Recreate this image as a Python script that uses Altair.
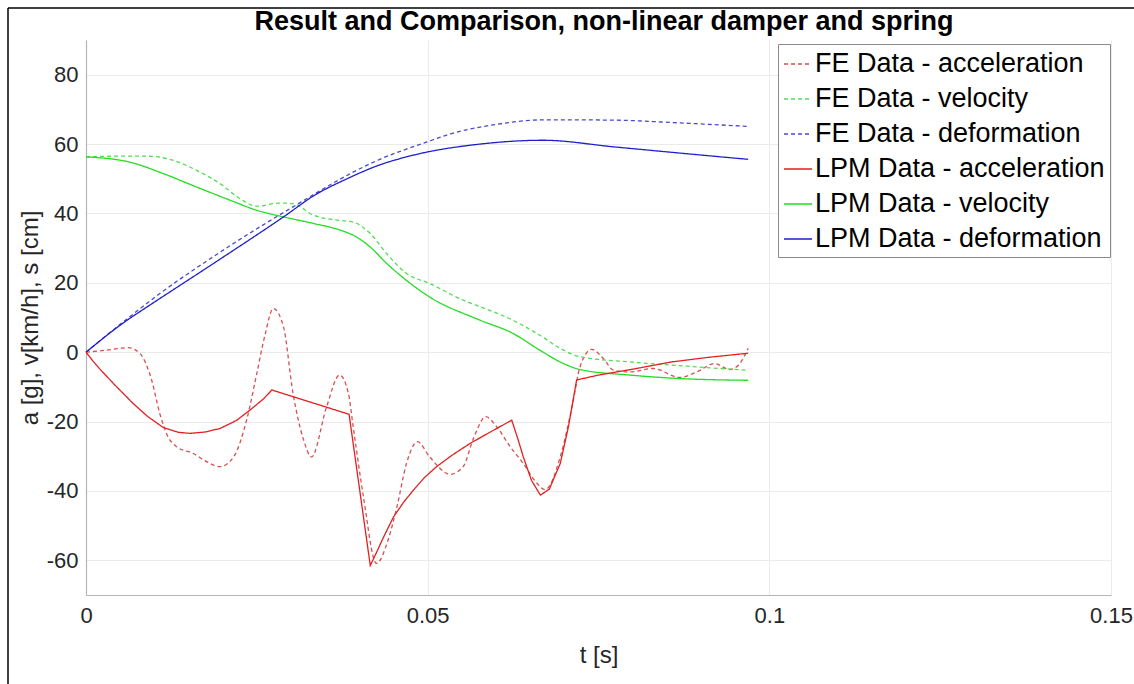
import altair as alt
import pandas as pd

# ---------------- data ----------------
title_text = "Result and Comparison, non-linear damper and spring"

fe_acc_t = [0, 0.003, 0.0062, 0.0079, 0.0096, 0.0108, 0.012, 0.0133, 0.0157, 0.0177, 0.0196,
            0.0216, 0.0235, 0.025, 0.0262, 0.0274, 0.0289, 0.0303, 0.0318, 0.033, 0.0352,
            0.0371, 0.0384, 0.0391, 0.0406, 0.0425, 0.0442, 0.0455, 0.0469, 0.0485, 0.0503,
            0.0533, 0.0552, 0.0567, 0.0585, 0.0601, 0.0621, 0.064, 0.066, 0.0672, 0.0694,
            0.0712, 0.0723, 0.074, 0.0757, 0.0772, 0.0796, 0.083, 0.0869, 0.0894, 0.092,
            0.0942, 0.0955, 0.0969]
fe_acc_v = [0, 0.6, 1.3, -0.4, -8, -17.7, -24.4, -27.3, -29.2, -31.6, -33,
            -30.2, -19.6, -6.1, 5, 12.6, 7.3, -11.9, -25, -30.2, -15.8,
            -6.6, -11.9, -21.5, -41.7, -60.9, -54.2, -44.6, -32.1, -25.8, -30.2,
            -35.2, -33, -24.9, -18.6, -21.5, -27.3, -32.1, -37.8, -39.6, -30.2,
            -15, -4.2, 0.8, -1.8, -5.2, -5.7, -4.7, -7.3, -5.7, -3.3,
            -5, -3.7, 1.1]

fe_vel_t = [0, 0.0045, 0.0089, 0.0128, 0.0162, 0.0196, 0.0225, 0.025, 0.0284, 0.0303,
            0.0333, 0.0362, 0.0391, 0.0416, 0.044, 0.0469, 0.0503, 0.0552, 0.0577, 0.0625,
            0.0664, 0.0694, 0.0723, 0.0796, 0.0869, 0.0969]
fe_vel_v = [56.3, 56.5, 56.5, 55.3, 52.4, 48.6, 44.3, 42.1, 43, 42.8,
            39.5, 38.2, 37.5, 34.2, 28.4, 22.7, 19.8, 15, 13.1, 9.2,
            4.9, 1.1, -1.3, -2.8, -3.9, -5.2]

fe_def_t = [0, 0.006, 0.0108, 0.0186, 0.0303, 0.0406, 0.043, 0.0499, 0.0528, 0.0601,
            0.0674, 0.0772, 0.0869, 0.0967]
fe_def_v = [0, 9.6, 16.9, 27.5, 41.9, 53.4, 55.6, 60.6, 62.6, 65.7,
            67, 66.9, 66.1, 65.1]

lpm_acc_t = [0, 0.001, 0.002, 0.004, 0.0055, 0.0069, 0.009, 0.0113, 0.0135, 0.0152,
             0.0175, 0.0196, 0.022, 0.024, 0.026, 0.0272, 0.0385, 0.0416, 0.0425, 0.0435,
             0.045, 0.0465, 0.0479, 0.0495, 0.0513, 0.0535, 0.0562, 0.059, 0.0623, 0.0632,
             0.064, 0.0652, 0.0665, 0.0678, 0.0694, 0.0706, 0.0718, 0.075, 0.08, 0.0857,
             0.091, 0.0969]
lpm_acc_v = [0, -2.5, -4.8, -9, -12, -14.8, -18.5, -21.7, -23.1, -23.4,
             -23, -22, -19.7, -16.7, -13.4, -10.9, -17.9, -61.5, -57.8, -53.5,
             -47.5, -43.2, -39.8, -36.2, -33, -29.8, -26.3, -23.2, -19.6, -25,
             -30.2, -37, -41.2, -39.5, -32.1, -21.5, -8, -6.6, -4.9, -2.8,
             -1.5, -0.3]

lpm_vel_t = [0, 0.0064, 0.0113, 0.0162, 0.0211, 0.025, 0.0289, 0.0333, 0.0372, 0.0396,
             0.0416, 0.044, 0.0469, 0.0503, 0.0577, 0.0625, 0.0664, 0.0699, 0.0723, 0.0796,
             0.0869, 0.0969]
lpm_vel_v = [56.3, 54.8, 51.5, 47.6, 43.8, 40.9, 39, 37.1, 35.2, 33.2,
             30.3, 25.6, 20.7, 15.9, 9.2, 5.4, 0.6, -3.3, -5, -6.6,
             -7.6, -8.1]

lpm_def_t = [0, 0.006, 0.0089, 0.0186, 0.0289, 0.0335, 0.0382, 0.043, 0.0479, 0.0577,
             0.0669, 0.0772, 0.0869, 0.0969]
lpm_def_v = [0, 9.2, 13, 25.5, 39, 45.3, 50, 54, 56.8, 60,
             61.1, 59.2, 57.4, 55.6]

series_names = ["FE Data - acceleration", "FE Data - velocity", "FE Data - deformation",
                "LPM Data - acceleration", "LPM Data - velocity", "LPM Data - deformation"]
series_colors = ["#d85050", "#55dd55", "#4a4acc", "#e41f1f", "#22dd22", "#1f1fcc"]

# ---------------- table ----------------
rows = []
for name, ts, vs in zip(series_names,
                        [fe_acc_t, fe_vel_t, fe_def_t, lpm_acc_t, lpm_vel_t, lpm_def_t],
                        [fe_acc_v, fe_vel_v, fe_def_v, lpm_acc_v, lpm_vel_v, lpm_def_v]):
    for i, (t, v) in enumerate(zip(ts, vs)):
        rows.append({"series": name, "t": t, "v": v, "order": i})
df = pd.DataFrame(rows)

FONT = "Liberation Sans"

x_enc = alt.X("t:Q", scale=alt.Scale(domain=[0, 0.15], nice=False),
              axis=alt.Axis(values=[0, 0.05, 0.1, 0.15], format=".2~f", title="t [s]",
                            labelFlush=False, ticks=False, labelPadding=10,
                            titleY=60, titleBaseline="middle"))
y_enc = alt.Y("v:Q", scale=alt.Scale(domain=[-70, 90], nice=False, zero=False),
              axis=alt.Axis(values=[-60, -40, -20, 0, 20, 40, 60, 80],
                            labelExpr="'' + datum.value",
                            title="a [g], v[km/h], s [cm]", ticks=False,
                            labelPadding=8, labelFlush=False, titleX=-56,
                            titleBaseline="middle"))
color_enc = alt.Color("series:N",
                      scale=alt.Scale(domain=series_names, range=series_colors),
                      legend=alt.Legend(title=None, orient="none", legendX=692, legendY=4,
                                        labelFontSize=27, labelFont=FONT, labelColor="#000000",
                                        symbolType="stroke", symbolSize=784,
                                        symbolStrokeWidth=1.8, rowPadding=7,
                                        padding=5, labelOffset=2,
                                        strokeColor="#8a8a8a", fillColor="#ffffff",
                                        cornerRadius=0, labelLimit=400))
dash_enc = alt.StrokeDash("series:N",
                          scale=alt.Scale(domain=series_names,
                                          range=[[4, 3], [4, 3], [4, 3], [1, 0], [1, 0], [1, 0]]),
                          legend=alt.Legend(title=None))
width_enc = alt.StrokeWidth("series:N",
                            scale=alt.Scale(domain=series_names,
                                            range=[1.3, 1.3, 1.3, 2, 2, 2]),
                            legend=None)

base = alt.Chart(df).encode(x=x_enc, y=y_enc, color=color_enc, strokeDash=dash_enc,
                            strokeWidth=width_enc, order="order:Q")

smooth = base.mark_line(interpolate="monotone").transform_filter(
    alt.datum.series != "LPM Data - acceleration")
sharp = base.mark_line(interpolate="linear").transform_filter(
    alt.datum.series == "LPM Data - acceleration")

frame_df = pd.DataFrame({"label": [title_text]})
left_border = alt.Chart(frame_df).mark_rule(color="#000000", strokeWidth=1.5).encode(
    x=alt.value(-78), y=alt.value(-32), y2=alt.value(644))
top_border = alt.Chart(frame_df).mark_rule(color="#000000", strokeWidth=1.5).encode(
    x=alt.value(-78), x2=alt.value(1048), y=alt.value(-32))
title_mark = alt.Chart(frame_df).mark_text(
    font=FONT, fontSize=27, fontWeight="bold", color="#000000",
    align="center", baseline="alphabetic").encode(
    x=alt.value(518), y=alt.value(-10), text="label:N")

chart = alt.layer(smooth, sharp, left_border, top_border, title_mark).properties(
    width=1025, height=555,
    background="#ffffff",
    autosize=alt.AutoSizeParams(type="none"),
    padding={"left": 86, "top": 40, "right": 23, "bottom": 89},
).configure_axis(
    labelFont=FONT, titleFont=FONT, labelFontSize=22, titleFontSize=24,
    labelColor="#262626", titleColor="#262626", titleFontWeight="normal",
    gridColor="#ebebeb", gridWidth=1, domainColor="#b5b5b5", domainWidth=1.2,
).configure_view(stroke=None)

chart.save("out.html", embed_options={"renderer": "svg", "actions": False})
